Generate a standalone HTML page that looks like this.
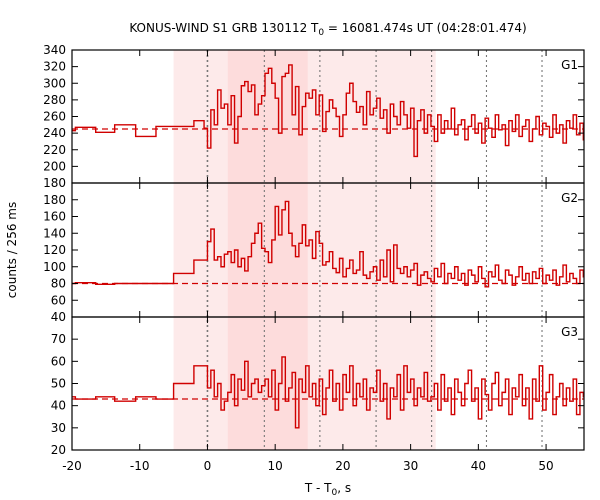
<!DOCTYPE html>
<html><head><meta charset="utf-8"><style>
body{margin:0;background:#fff}
svg{display:block;font-family:"DejaVu Sans","Liberation Sans",sans-serif}
</style></head><body>
<svg id="c" width="600" height="500" xmlns="http://www.w3.org/2000/svg">
<text x="328" y="32" font-size="12" text-anchor="middle">KONUS-WIND S1 GRB 130112 T<tspan font-size="9" dy="3">0</tspan><tspan dy="-3"> = 16081.474s UT (04:28:01.474)</tspan></text>
<text transform="translate(16,250) rotate(-90)" font-size="12" text-anchor="middle">counts / 256 ms</text>
<text x="328" y="492" font-size="12" text-anchor="middle">T - T<tspan font-size="9" dy="3">0</tspan><tspan dy="-3">, s</tspan></text>
</svg>
<script>
const preEdges=[-20,-19.5,-16.5,-13.7,-10.6,-7.6,-5,-2,-0.5];
const g1Pre=[243,247,241,250,236,248,248,255];
const g2Pre=[80,81,79,80,80,80,92,108];
const g3Pre=[44,43,44,42,44,43,50,58];
const binStart=-0.5, binWidth=0.5;
const g1=[246,222,268,250,292,270,275,250,285,228,260,297,302,290,298,262,275,285,
312,318,300,282,240,308,312,322,262,296,238,272,288,282,292,262,
286,242,266,280,270,260,236,262,288,300,278,265,272,250,290,262,270,
282,258,268,240,275,260,250,278,262,246,270,212,255,268,240,262,
248,230,262,240,255,245,270,238,250,256,232,248,262,240,252,228,258,246,235,262,244,250,225,255,242,262,236,248,256,230,245,260,238,252,248,235,262,240,250,228,255,246,262,238,252,232];
const g2=[108,130,145,108,112,100,115,118,105,120,100,110,95,112,128,140,152,122,
118,105,132,172,138,168,178,140,125,112,128,150,125,132,110,142,
128,102,106,118,98,93,110,88,98,108,92,96,118,90,86,94,100,
84,108,88,120,82,126,98,92,100,88,96,104,78,90,94,86,
82,98,88,104,80,92,86,100,84,92,78,96,90,82,100,86,76,94,88,102,84,80,96,90,78,88,100,84,92,80,94,86,98,80,90,84,96,78,88,102,82,92,86,80,96,88];
const g3=[58,48,56,44,50,38,42,46,54,40,52,47,60,44,50,52,46,49,
52,44,56,38,50,62,42,48,55,30,52,46,58,44,50,40,
52,36,48,56,42,50,38,54,46,58,40,50,44,52,38,48,46,
56,42,50,34,48,44,54,38,58,46,52,40,48,44,55,42,
44,50,38,54,42,48,36,52,46,40,50,56,42,48,34,52,45,38,50,55,40,46,52,36,48,44,54,40,48,34,52,42,58,38,46,54,36,44,50,40,48,42,52,36,46,44];
const bgLevels=[245,80,43];
const xTicks=[-20,-10,0,10,20,30,40,50];
const g1Ticks=[180,200,220,240,260,280,300,320,340];
const g2Ticks=[40,60,80,100,120,140,160,180];
const g3Ticks=[20,30,40,50,60,70];
const vLines=[0,8.4,16.6,24.9,33.1,41.2,49.4];
const shadeOuter=[-5,33.7], shadeInner=[3,14.8];

const NS='http://www.w3.org/2000/svg', svg=document.getElementById('c');
const L=72,R=584,X0=-20,X1=55.6;
const sx=t=>L+(t-X0)/(X1-X0)*(R-L);
function mk(tag,at,parent){const e=document.createElementNS(NS,tag);for(const k in at)e.setAttribute(k,at[k]);(parent||svg).appendChild(e);return e;}
const panels=[
 {top:50,bot:183,y0:180,y1:340,pre:g1Pre,fine:g1,ticks:g1Ticks,minor:20,name:'G1'},
 {top:183,bot:317,y0:40,y1:200,pre:g2Pre,fine:g2,ticks:g2Ticks,minor:20,name:'G2'},
 {top:317,bot:450,y0:20,y1:80,pre:g3Pre,fine:g3,ticks:g3Ticks,minor:10,name:'G3'}];
// shading
const sh1=mk('rect',{x:sx(shadeOuter[0]),y:50,width:sx(shadeOuter[1])-sx(shadeOuter[0]),height:400,fill:'#fdeaea'});


const sh2=mk('rect',{x:sx(shadeInner[0]),y:50,width:sx(shadeInner[1])-sx(shadeInner[0]),height:400,fill:'#fddcdc'});


// vertical lines
vLines.forEach((v,i)=>{const l=mk('line',{x1:sx(v),x2:sx(v),y1:50,y2:450,stroke:'#777','stroke-width':i==0?1.6:1.1,'stroke-dasharray':'2,3'});
 
 });
panels.forEach((p,pi)=>{
 const sy=v=>p.bot-(v-p.y0)/(p.y1-p.y0)*(p.bot-p.top);
 const g=mk('g',{});
 
 
 const cp=mk('clipPath',{id:'cp'+pi},g);mk('rect',{x:L,y:p.top,width:R-L,height:p.bot-p.top},cp);
 const bl=mk('line',{x1:L,x2:R,y1:sy(bgLevels[pi]),y2:sy(bgLevels[pi]),stroke:'#d00000','stroke-width':1.2,'stroke-dasharray':'6,4'},g);
 
 
 let d='';
 p.pre.forEach((v,i)=>{d+=(i?'L':'M')+sx(preEdges[i])+','+sy(v)+'L'+sx(preEdges[i+1])+','+sy(v);});
 p.fine.forEach((v,i)=>{const a=binStart+i*binWidth;d+='L'+sx(a)+','+sy(v)+'L'+sx(a+binWidth)+','+sy(v);});
 const path=mk('path',{d:d,fill:'none',stroke:'#d00000','stroke-width':1.4,'clip-path':'url(#cp'+pi+')'},g);
 
 
 mk('rect',{x:L,y:p.top,width:R-L,height:p.bot-p.top,fill:'none',stroke:'#000','stroke-width':1.2},g);
 p.ticks.forEach(t=>{const y=sy(t);
  mk('line',{x1:L,x2:L+6,y1:y,y2:y,stroke:'#000'},g);mk('line',{x1:R,x2:R-6,y1:y,y2:y,stroke:'#000'},g);
  const tx=mk('text',{x:L-6,y:y+4,'font-size':12,'text-anchor':'end'},g);tx.textContent=t;
  
  });
 xTicks.forEach(t=>{const x=sx(t);
  mk('line',{x1:x,x2:x,y1:p.top,y2:p.top+6,stroke:'#000'},g);mk('line',{x1:x,x2:x,y1:p.bot,y2:p.bot-6,stroke:'#000'},g);});
 const lb=mk('text',{x:578,y:p.top+19,'font-size':12,'text-anchor':'end'},g);lb.textContent=p.name;
 
 
});
xTicks.forEach(t=>{const tx=mk('text',{x:sx(t),y:470,'font-size':12,'text-anchor':'middle'});tx.textContent=t;
 
 });
</script>
</body></html>
